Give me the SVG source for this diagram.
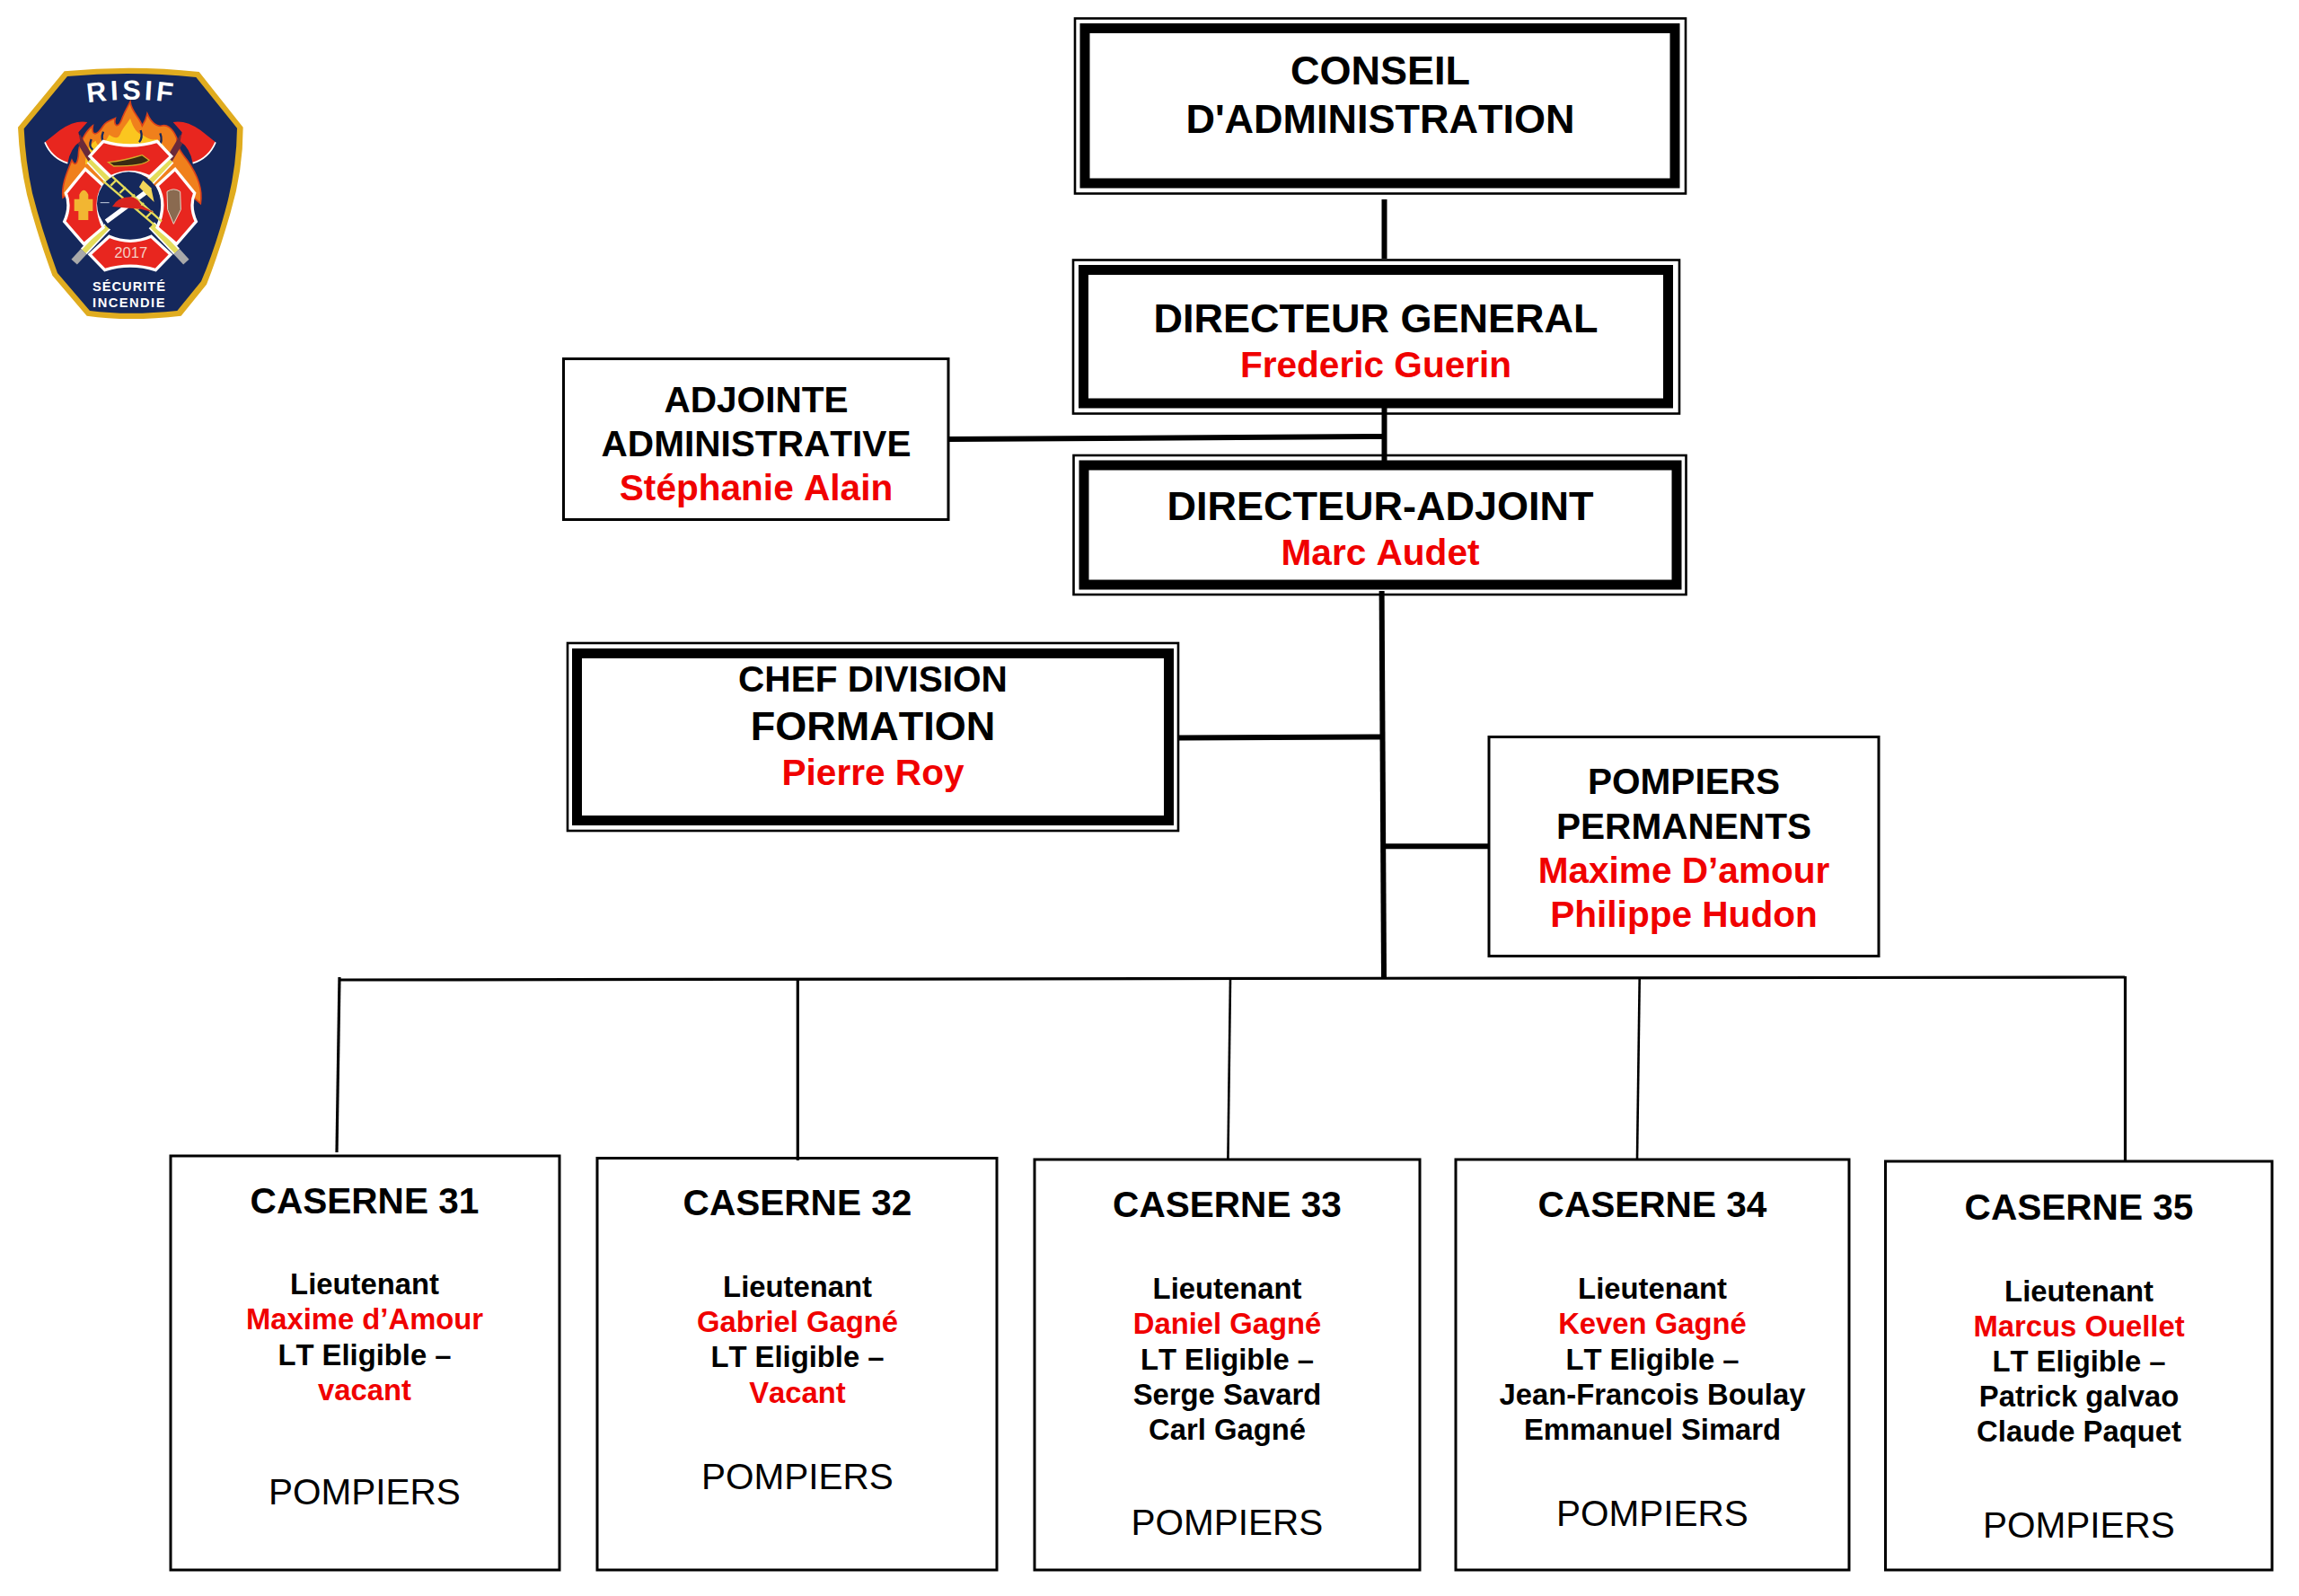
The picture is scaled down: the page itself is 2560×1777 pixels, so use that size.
<svg xmlns="http://www.w3.org/2000/svg" width="2560" height="1777" viewBox="0 0 2560 1777">
<style>
text{font-family:"Liberation Sans",Arial,sans-serif;font-weight:700;text-anchor:middle;fill:#000;font-kerning:none}
.r{fill:#f00000}
.t44{font-size:45px}
.t40{font-size:40.6px}
.t32{font-size:32.8px}
.n{font-weight:400;font-size:40.5px}
.outer{fill:#fff;stroke:#000;stroke-width:2.6}
.inner{fill:#fff;stroke:#000;stroke-width:11}
.box{fill:#fff;stroke:#000;stroke-width:3}
.c{fill:none;stroke:#000;stroke-linecap:butt}
.w6{stroke-width:6}
.w3{stroke-width:3.2}
.w2{stroke-width:2.6}
.lg{fill:#fff}
</style>
<defs>
<path id="risifArc" d="M230 205 Q440 160 650 205"/>
<g id="axe">
<path d="M258 305 L320 410" stroke="#6b2a3a" stroke-width="22" fill="none"/>
<path d="M150 325 L200 285 Q250 250 292 258 L262 292 L268 322 Q235 345 226 395 Q172 378 150 325Z" fill="#e8261f"/>
<path d="M150 325 Q172 378 226 395" fill="none" stroke="#fff" stroke-width="5"/>
</g>
<g id="bar">
<path d="M300 385 L590 690" stroke="#fff" stroke-width="28" fill="none"/>
<path d="M300 385 L590 690" stroke="#e4dc5a" stroke-width="18" fill="none"/>
<path d="M590 690 L622 725" stroke="#a9a9a9" stroke-width="26" fill="none"/>
</g>
</defs>
<rect width="2560" height="1777" fill="#fff"/>

<g id="logo" transform="translate(0,50) scale(.33333)">
<path d="M215 88Q440 65 665 90L812 275Q812 420 770 560Q730 700 690 800L605 905Q430 925 290 905L175 770Q120 620 90 500Q65 390 60 275Z" fill="#e0ac1f"/>
<path d="M225 105Q440 85 655 108L792 278Q790 420 752 555Q715 690 672 790L592 888Q430 905 300 888L192 762Q140 620 108 495Q85 390 80 280Z" fill="#15285c"/>
<path d="M210 510C205 470 222 430 240 385C250 405 258 400 262 370C262 330 285 290 310 270C305 300 320 310 345 270C355 255 375 250 385 245C378 270 395 285 410 240C420 215 428 205 435 190C440 225 465 240 475 270C485 255 490 240 492 230C505 260 525 275 540 270C555 265 575 275 590 310C590 340 605 360 625 385C650 420 680 470 670 530L600 470L270 470Z" fill="#f0801c" stroke="#d9401a" stroke-width="5"/>
<path d="M285 400C285 360 300 330 320 320C325 345 345 340 365 300C380 310 395 320 405 290C420 265 430 255 435 245C445 280 460 295 475 300C490 310 505 320 520 315C540 320 560 350 575 395L430 340Z" fill="#fbc61f"/>
<path d="M305 315Q295 340 310 350M345 290Q335 315 350 330M470 285Q478 310 465 325M535 295Q545 320 530 340" stroke="#15285c" stroke-width="7" fill="none"/>
<use href="#axe"/>
<use href="#axe" transform="translate(870,0) scale(-1,1)"/>
<use href="#bar"/>
<use href="#bar" transform="translate(870,0) scale(-1,1)"/>
<path d="M300 372L345 322Q435 350 525 322L572 372L500 440Q435 410 370 440Z" fill="#e8261f" stroke="#fff" stroke-width="10"/>
<path d="M285 415L220 495Q238 540 215 590L280 665L345 610Q310 530 345 470Z" fill="#e8261f" stroke="#fff" stroke-width="10"/>
<path d="M585 415L650 495Q632 540 655 590L590 665L525 610Q560 530 525 470Z" fill="#e8261f" stroke="#fff" stroke-width="10"/>
<path d="M300 700L365 640Q435 670 505 640L570 700L520 752Q435 725 350 752Z" fill="#e8261f" stroke="#fff" stroke-width="10"/>
<path d="M362 392Q420 385 450 375L475 368L498 385Q480 405 380 405Z" fill="#3a2a12" stroke="#d6a92a" stroke-width="4"/>
<circle cx="430" cy="530" r="106" fill="#15285c"/>
<path d="M355 590L490 490" stroke="#fff" stroke-width="16" fill="none"/>
<path d="M478 452L505 478L515 525L494 505L465 475Z" fill="#f2d65a"/>
<path d="M345 455L520 605M375 440L540 590M370 470L390 450M400 495L420 475M430 520L450 500M460 548L480 528M490 575L510 555" stroke="#e4dc5a" stroke-width="7" fill="none"/>
<path d="M375 540Q395 505 440 508Q465 515 470 535L515 560L470 548L430 545Z" fill="#d8241e"/>
<path d="M335 527H365" stroke="#c9d2e0" stroke-width="3" fill="none"/>
<path d="M265 500Q280 470 295 500V515H310V555H295V585H262V555H248V515H265Z" fill="#f2b632"/>
<path d="M558 490Q580 475 602 490L604 550L580 598L560 550Z" fill="#8a6a50" stroke="#e8d8c8" stroke-width="3"/>
<text class="lg" font-size="92" style="letter-spacing:12px"><textPath href="#risifArc" startOffset="50%">RISIF</textPath></text>
<text class="lg" x="437" y="710" font-size="50" style="fill:#f5cfc4;font-weight:400">2017</text>
<text class="lg" x="432" y="823" font-size="44" style="letter-spacing:3px">SÉCURITÉ</text>
<text class="lg" x="432" y="875" font-size="44" style="letter-spacing:4.4px">INCENDIE</text>
</g>

<g id="conseil">
<rect class="outer" x="1197" y="20.5" width="680" height="195"/>
<rect class="inner" x="1208" y="31.5" width="657" height="172.5"/>
<text class="t44" x="1537" y="94">CONSEIL</text>
<text class="t44" x="1537" y="148">D'ADMINISTRATION</text>
</g>
<g id="directeur-general">
<rect class="outer" x="1195" y="289.5" width="675" height="171"/>
<rect class="inner" x="1206.5" y="300.5" width="651" height="148.5"/>
<text class="t44" x="1532" y="370">DIRECTEUR GENERAL</text>
<text class="t40 r" x="1532" y="420">Frederic Guerin</text>
</g>
<g id="directeur-adjoint">
<rect class="outer" x="1195.5" y="507" width="682" height="155"/>
<rect class="inner" x="1207" y="518" width="660" height="133"/>
<text class="t44" x="1537" y="579">DIRECTEUR-ADJOINT</text>
<text class="t40 r" x="1537" y="629">Marc Audet</text>
</g>
<g id="adjointe">
<rect class="box" x="627.5" y="399.5" width="428.5" height="179"/>
<text class="t40" x="842" y="459">ADJOINTE</text>
<text class="t40" x="842" y="508">ADMINISTRATIVE</text>
<text class="t40 r" x="842" y="557">Stéphanie Alain</text>
</g>
<g id="chef-division">
<rect class="outer" x="632" y="716" width="680" height="209"/>
<rect class="inner" x="642.5" y="727.5" width="659" height="186"/>
<text class="t40" x="972" y="770">CHEF DIVISION</text>
<text class="t44" x="972" y="824">FORMATION</text>
<text class="t40 r" x="972" y="874">Pierre Roy</text>
</g>
<g id="pompiers-permanents">
<rect class="box" x="1658" y="820.5" width="434" height="244"/>
<text class="t40" x="1875" y="884">POMPIERS</text>
<text class="t40" x="1875" y="933.5">PERMANENTS</text>
<text class="t40 r" x="1875" y="983">Maxime D’amour</text>
<text class="t40 r" x="1875" y="1032">Philippe Hudon</text>
</g>
<g id="caserne-31">
<rect class="box" x="190" y="1287" width="433" height="461"/>
<text class="t40" x="406" y="1350.5">CASERNE 31</text>
<text class="t32" x="406" y="1441">Lieutenant</text>
<text class="t32 r" x="406" y="1480">Maxime d’Amour</text>
<text class="t32" x="406" y="1519.5">LT Eligible –</text>
<text class="t32 r" x="406" y="1559">vacant</text>
<text class="n" x="406" y="1675">POMPIERS</text>
</g>
<g id="caserne-32">
<rect class="box" x="665" y="1289.5" width="445" height="458.5"/>
<text class="t40" x="888" y="1353">CASERNE 32</text>
<text class="t32" x="888" y="1444">Lieutenant</text>
<text class="t32 r" x="888" y="1483">Gabriel Gagné</text>
<text class="t32" x="888" y="1522">LT Eligible –</text>
<text class="t32 r" x="888" y="1562">Vacant</text>
<text class="n" x="888" y="1658">POMPIERS</text>
</g>
<g id="caserne-33">
<rect class="box" x="1152" y="1291" width="429" height="457"/>
<text class="t40" x="1366.5" y="1355">CASERNE 33</text>
<text class="t32" x="1366.5" y="1445.5">Lieutenant</text>
<text class="t32 r" x="1366.5" y="1485">Daniel Gagné</text>
<text class="t32" x="1366.5" y="1524.5">LT Eligible –</text>
<text class="t32" x="1366.5" y="1563.5">Serge Savard</text>
<text class="t32" x="1366.5" y="1602.5">Carl Gagné</text>
<text class="n" x="1366.5" y="1709">POMPIERS</text>
</g>
<g id="caserne-34">
<rect class="box" x="1621" y="1291" width="438" height="457"/>
<text class="t40" x="1840" y="1355">CASERNE 34</text>
<text class="t32" x="1840" y="1445.5">Lieutenant</text>
<text class="t32 r" x="1840" y="1485">Keven Gagné</text>
<text class="t32" x="1840" y="1524.5">LT Eligible –</text>
<text class="t32" x="1840" y="1563.5">Jean-Francois Boulay</text>
<text class="t32" x="1840" y="1602.5">Emmanuel Simard</text>
<text class="n" x="1840" y="1699">POMPIERS</text>
</g>
<g id="caserne-35">
<rect class="box" x="2099.5" y="1293" width="430.5" height="455"/>
<text class="t40" x="2315" y="1358">CASERNE 35</text>
<text class="t32" x="2315" y="1448.5">Lieutenant</text>
<text class="t32 r" x="2315" y="1487.5">Marcus Ouellet</text>
<text class="t32" x="2315" y="1527">LT Eligible –</text>
<text class="t32" x="2315" y="1566">Patrick galvao</text>
<text class="t32" x="2315" y="1605">Claude Paquet</text>
<text class="n" x="2315" y="1712">POMPIERS</text>
</g>

<g id="connectors">
<path class="c w6" d="M1541.5 222V288"/>
<path class="c w6" d="M1541.5 454V513"/>
<path class="c w6" d="M1057 489L1541 486"/>
<path class="c w6" d="M1538.6 658L1541 1088"/>
<path class="c w6" d="M1313 821.5L1540 820.5"/>
<path class="c w6" d="M1541 942.3H1657"/>
<path class="c w3" d="M377 1091L2366 1088"/>
<path class="c w3" d="M378 1088L375 1283"/>
<path class="c w3" d="M888.3 1089V1292"/>
<path class="c w2" d="M1370 1090L1367.4 1291"/>
<path class="c w2" d="M1825.7 1090L1823 1291"/>
<path class="c w3" d="M2366.5 1087V1293"/>
</g>
</svg>
